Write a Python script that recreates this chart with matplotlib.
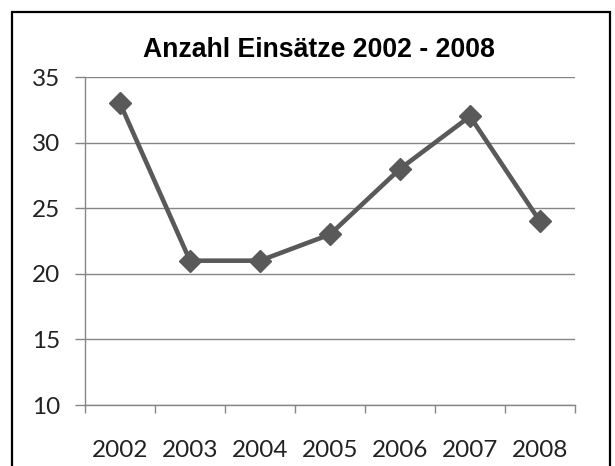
import matplotlib
matplotlib.use("Agg")
import matplotlib.pyplot as plt
from matplotlib.patches import Rectangle
import numpy as np

years = ["2002", "2003", "2004", "2005", "2006", "2007", "2008"]
values = [33, 21, 21, 23, 28, 32, 24]
yticks = [10, 15, 20, 25, 30, 35]
title = "Anzahl Einsätze 2002 - 2008"

W, H = 615, 466
fig = plt.figure(figsize=(W / 100, H / 100), dpi=100)
ax = fig.add_axes([85 / W, 1 - 405 / H, (575 - 85) / W, (405 - 77) / H])

x = np.arange(len(years))
ax.plot(x, values, color="#595959", lw=3.3, marker="D", markersize=11.5,
        markerfacecolor="#595959", markeredgecolor="#595959", zorder=3)

ax.set_xlim(-0.5, len(years) - 0.5)
ax.set_ylim(10, 35)
ax.set_yticks(yticks)
ax.yaxis.grid(True, color="#868686", lw=1.0)
ax.set_axisbelow(True)

ax.set_xticks(np.arange(-0.5, len(years), 1.0))
ax.set_xticklabels([])
ax.set_xticks(x, minor=True)
ax.set_xticklabels(years, minor=True)
ax.tick_params(axis="x", which="major", length=6, width=1, color="#868686", direction="out")
ax.tick_params(axis="x", which="minor", length=0, pad=25.5, labelsize=17.5)
ax.tick_params(axis="y", length=7, width=1, color="#868686", pad=11, labelsize=17.5)
for lab in ax.get_xticklabels(minor=True) + ax.get_yticklabels():
    lab.set_fontfamily("Lato")
    lab.set_color("#222222")

for s in ["top", "right"]:
    ax.spines[s].set_visible(False)
for s in ["left", "bottom"]:
    ax.spines[s].set_color("#868686")
    ax.spines[s].set_linewidth(1.0)

fig.text(319 / W, 1 - 57 / H, title, ha="center", va="baseline",
         fontsize=19.2, fontweight="bold", family="Liberation Sans")

fig.patches.append(Rectangle((12 / W, -0.1), (610 - 12) / W, 1 - 12 / H + 0.1,
                             transform=fig.transFigure, fill=False,
                             edgecolor="black", lw=1.6))

fig.savefig("out.png", dpi=100)
